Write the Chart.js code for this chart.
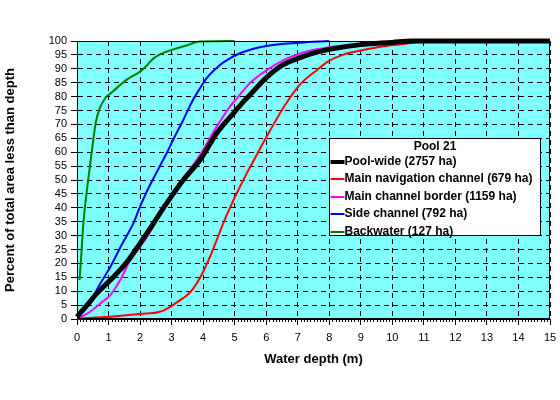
<!DOCTYPE html>
<html>
<head>
<meta charset="utf-8">
<script src="https://cdn.jsdelivr.net/npm/chart.js@4.4.1/dist/chart.umd.min.js"></script>
<style>
    html, body { margin: 0; padding: 0; background: #fff; }
</style>
</head>
<body>
<canvas id="depth-chart" width="560" height="400"></canvas>
<script>
// depth (m) and percent of area less than depth
const pool_depth = [0, 0.32, 0.63, 1.06, 1.59, 2.0, 2.32, 2.84, 3.37, 3.9, 4.43, 4.96, 5.33, 5.49, 6.02, 6.54, 7.07, 7.6, 8.0, 9.0, 10.0, 10.6, 15]
const pool_pct = [0.8, 5, 9.2, 14, 20.6, 27.2, 32.6, 41.6, 50, 57.2, 66.8, 74, 78.8, 80.7, 87, 91.5, 94, 96, 97, 98.7, 99.5, 100, 100]

const nav_depth = [0, 1.06, 2.0, 2.63, 2.96, 3.27, 3.49, 3.69, 3.95, 4.22, 4.43, 4.64, 4.85, 5.12, 5.38, 5.65, 6.02, 6.54, 7.07, 7.6, 7.97, 8.45, 8.98, 9.71, 10.35, 11.0]
const nav_pct = [0.2, 0.8, 1.8, 2.6, 4.4, 6.8, 8.5, 11, 15.8, 22.4, 28.4, 34.5, 40, 46.5, 52.3, 58, 65.7, 75.9, 84.3, 89.5, 92.7, 95.1, 96.5, 98.1, 98.9, 100]

const border_depth = [0.05, 0.42, 0.74, 1.06, 1.37, 1.69, 2.0, 2.22, 2.53, 2.84, 3.37, 3.9, 4.43, 4.85, 5.06, 5.49, 6.02, 6.54, 7.07, 7.6, 8.5, 9.5, 10.8]
const border_pct = [0.3, 2.6, 5.6, 8.6, 14, 21.2, 26, 29.5, 35.6, 41.6, 50.5, 59, 69.2, 76.4, 79.2, 84.9, 89.5, 93, 95.5, 97, 98.5, 99.5, 100]

const side_depth = [0.05, 0.42, 0.74, 1.06, 1.43, 1.79, 2.0, 2.2, 2.42, 2.84, 3.05, 3.37, 3.64, 3.9, 4.1, 4.4, 4.64, 5.17, 6.0, 7.07, 8.0]
const side_pct = [1.0, 6.2, 12.8, 18.8, 27, 34.5, 40.4, 45.5, 50.5, 59.6, 64.5, 71.6, 78, 83, 86.5, 90, 92.3, 95.6, 98.2, 99.4, 100]

const back_depth = [0.08, 0.13, 0.2, 0.3, 0.4, 0.5, 0.6, 0.73, 0.9, 1.05, 1.3, 1.57, 2.0, 2.2, 2.37, 2.6, 3.0, 3.5, 3.9, 5.0]
const back_pct = [14, 22, 34, 45, 54, 63, 71, 76, 79.5, 81, 83.5, 86, 89, 91, 93.2, 95, 96.8, 98.5, 99.8, 100]

const series_names = ['Pool-wide (2757 ha)', 'Main navigation channel (679 ha)', 'Main channel border (1159 ha)', 'Side channel (792 ha)', 'Backwater (127 ha)']
const series_colors = ['#000000', '#ff0000', '#ff00ff', '#0000ff', '#008000']
const legend_title = 'Pool 21'

const x_ticks = [0, 15, 1]
const y_ticks = [0, 100, 5]

const font_family = '"Liberation Sans", Arial, sans-serif'


function to_points(xs, ys) {
    return xs.map((x, i) => ({x: x, y: ys[i]}))
}

let all_depths = [pool_depth, nav_depth, border_depth, side_depth, back_depth]
let all_pcts = [pool_pct, nav_pct, border_pct, side_pct, back_pct]

let datasets = series_names.map((name, i) => ({
    label: name,
    data: to_points(all_depths[i], all_pcts[i]),
    borderColor: series_colors[i],
    backgroundColor: series_colors[i],
    borderWidth: i === 0 ? 5 : 2,
    pointRadius: 0,
    cubicInterpolationMode: 'monotone',
    clip: false,
}))


// cyan plot area, solid frame, minor ticks and the boxed legend
let plot_extras = {
    id: 'plot_extras',
    beforeDraw(chart) {
        const a = chart.chartArea
        const ctx = chart.ctx
        ctx.save()
        ctx.fillStyle = '#80ffff'
        ctx.fillRect(a.left, a.top, a.right - a.left, a.bottom - a.top)
        ctx.restore()
    },
    afterDraw(chart) {
        const a = chart.chartArea
        const ctx = chart.ctx
        const xs = chart.scales.x
        ctx.save()
        ctx.strokeStyle = '#000'
        ctx.lineWidth = 1
        ctx.strokeRect(a.left + 0.5, a.top + 0.5, a.right - a.left - 1, a.bottom - a.top - 1)

        ctx.beginPath()
        for (let k = 1; k < (x_ticks[1] - x_ticks[0]) * 10; k++) {
            if (k % 10 === 0) continue
            let px = Math.round(xs.getPixelForValue(x_ticks[0] + k / 10)) + 0.5
            ctx.moveTo(px, a.bottom)
            ctx.lineTo(px, a.bottom + 3)
        }
        ctx.stroke()

        // legend box
        let box_w = 211
        let box_h = 97
        let bx = Math.round(a.right - 221) + 0.5
        let by = Math.round(a.top + 97) + 0.5
        ctx.fillStyle = '#fff'
        ctx.fillRect(bx, by, box_w, box_h)
        ctx.strokeRect(bx, by, box_w, box_h)

        ctx.fillStyle = '#000'
        ctx.font = 'bold 12px ' + font_family
        ctx.textBaseline = 'middle'
        ctx.textAlign = 'center'
        ctx.fillText(legend_title, bx + box_w / 2, by + 8)

        ctx.textAlign = 'left'
        chart.data.datasets.forEach((ds, i) => {
            let cy = by + 23 + i * 17.5
            ctx.strokeStyle = ds.borderColor
            ctx.lineWidth = i === 0 ? 4 : 2
            ctx.beginPath()
            ctx.moveTo(bx + 1, Math.round(cy))
            ctx.lineTo(bx + 15, Math.round(cy))
            ctx.stroke()
            ctx.fillStyle = '#000'
            ctx.fillText(ds.label, bx + 15, cy)
        })
        ctx.restore()
    }
}


let ctx = document.getElementById('depth-chart')

let options = {
    responsive: false,
    animation: false,
    layout: {
        padding: {left: 0, top: 41, right: 10, bottom: 0}
    },
    plugins: {
        legend: {display: false},
        tooltip: {enabled: false}
    },
    scales: {
        x: {
            type: 'linear',
            min: x_ticks[0],
            max: x_ticks[1],
            afterFit: function (scale) {
                scale.height = 81
                scale.paddingLeft = 0
                scale.paddingRight = 0
            },
            ticks: {
                stepSize: x_ticks[2],
                autoSkip: false,
                maxRotation: 0,
                padding: 6,
                color: '#000',
                font: {family: font_family, size: 11}
            },
            grid: {
                color: '#000',
                tickColor: '#000',
                tickLength: 6,
                lineWidth: 1
            },
            border: {display: true, color: '#000', dash: [5, 4]},
            title: {
                display: true,
                text: 'Water depth (m)',
                color: '#000',
                padding: {top: 0, bottom: 33},
                font: {family: font_family, size: 13, weight: 'bold'}
            }
        },
        y: {
            min: y_ticks[0],
            max: y_ticks[1],
            afterFit: function (scale) {
                scale.width = 77
                scale.paddingTop = 0
                scale.paddingBottom = 0
            },
            ticks: {
                stepSize: y_ticks[2],
                autoSkip: false,
                padding: 4,
                color: '#000',
                font: {family: font_family, size: 11}
            },
            grid: {
                color: '#000',
                tickColor: '#000',
                tickLength: 6,
                lineWidth: 1
            },
            border: {display: true, color: '#000', dash: [5, 4]},
            title: {
                display: true,
                text: 'Percent of total area less than depth',
                color: '#000',
                padding: {top: 3, bottom: 0},
                font: {family: font_family, size: 13, weight: 'bold'}
            }
        }
    }
}

let depth_chart = new Chart(ctx, {
    type: 'line',
    data: {datasets: datasets},
    options: options,
    plugins: [plot_extras]
})
</script>
</body>
</html>
